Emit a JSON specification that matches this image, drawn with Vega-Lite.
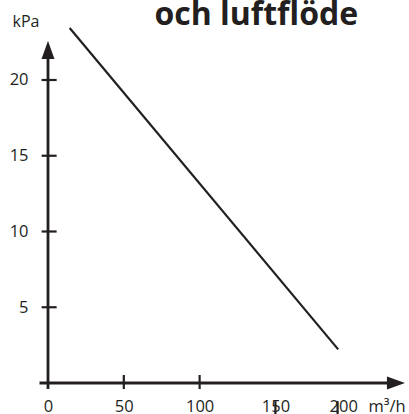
{
  "$schema": "https://vega.github.io/schema/vega-lite/v6.json",
  "autosize": "none",
  "padding": {"left": 48, "top": 0, "right": 0, "bottom": 31},
  "width": 361,
  "height": 383,
  "background": "white",
  "config": {"view": {"stroke": null}, "font": "Open Sans"},
  "encoding": {
    "x": {
      "field": "x", "type": "quantitative",
      "scale": {"domain": [0, 238.1], "nice": false, "zero": false},
      "axis": {
        "values": [0, 50, 100, 150, 200],
        "domain": false, "ticks": false, "tickSize": 0, "grid": false,
        "labelFont": "Open Sans", "labelFontSize": 16.5, "labelColor": "#231f20",
        "labelPadding": 15, "labelFlush": false,
        "labelOffset": {"condition": {"test": "datum.value == 200", "value": -8}, "value": 0},
        "title": "m³/h", "titleFont": "Open Sans", "titleFontSize": 16.5, "titleFontWeight": "normal",
        "titleColor": "#231f20", "titleAngle": 0, "titleAlign": "left", "titleBaseline": "alphabetic",
        "titleX": 320, "titleY": 28
      }
    },
    "y": {
      "field": "y", "type": "quantitative",
      "scale": {"domain": [0, 25.28], "nice": false, "zero": false},
      "axis": {
        "values": [5, 10, 15, 20],
        "domain": false, "ticks": false, "tickSize": 0, "grid": false,
        "labelFont": "Open Sans", "labelFontSize": 16.5, "labelColor": "#231f20",
        "labelPadding": 20, "labelFlush": false,
        "title": "kPa", "titleFont": "Open Sans", "titleFontSize": 16, "titleFontWeight": "normal",
        "titleColor": "#231f20", "titleAngle": 0, "titleAlign": "left", "titleBaseline": "alphabetic",
        "titleX": -36, "titleY": 26
      }
    }
  },
  "layer": [
    {
      "data": {"values": [
        {"x": -5.6, "y": 0, "x2": 229.5, "y2": 0},
        {"x": 0, "y": -0.4, "x2": 0, "y2": 21.98}
      ]},
      "mark": {"type": "rule", "color": "#231f20", "strokeWidth": 2.8},
      "encoding": {"x2": {"field": "x2"}, "y2": {"field": "y2"}}
    },
    {
      "data": {"values": [
        {"x": -4.2, "y": 5, "x2": 5.7, "y2": 5},
        {"x": -4.2, "y": 10, "x2": 5.7, "y2": 10},
        {"x": -4.2, "y": 15, "x2": 5.7, "y2": 15},
        {"x": -4.2, "y": 20, "x2": 5.7, "y2": 20},
        {"x": 50, "y": -0.4, "x2": 50, "y2": 0.53},
        {"x": 100, "y": -0.4, "x2": 100, "y2": 0.53},
        {"x": 150, "y": -1.2, "x2": 150, "y2": -2.05},
        {"x": 191, "y": -1.2, "x2": 191, "y2": -2.05}
      ]},
      "mark": {"type": "rule", "color": "#231f20", "strokeWidth": 2.2},
      "encoding": {"x2": {"field": "x2"}, "y2": {"field": "y2"}}
    },
    {
      "data": {"values": [
        {"x": 14.3, "y": 23.43},
        {"x": 191.4, "y": 2.22}
      ]},
      "mark": {"type": "line", "color": "#231f20", "strokeWidth": 2.2, "clip": false},
      "encoding": {}
    },
    {
      "data": {"values": [
        {"x": 229.5, "y": 0, "dir": "right"},
        {"x": 0, "y": 21.98, "dir": "up"}
      ]},
      "mark": {"type": "point", "filled": true, "opacity": 1, "size": 324, "color": "#231f20"},
      "encoding": {
        "shape": {
          "field": "dir", "type": "nominal", "legend": null,
          "scale": {"domain": ["right", "up"], "range": ["M-1,-0.72L1,0L-1,0.72Z", "M-0.72,1L0,-1L0.72,1Z"]}
        }
      }
    },
    {
      "data": {"values": [{"label": "och luftflöde", "x": 137.4, "y": 23.63}]},
      "mark": {"type": "text", "font": "Open Sans", "fontWeight": "bold", "fontSize": 32, "color": "#231f20", "align": "center", "baseline": "alphabetic"},
      "encoding": {
        "text": {"field": "label", "type": "nominal"}
      }
    }
  ]
}
